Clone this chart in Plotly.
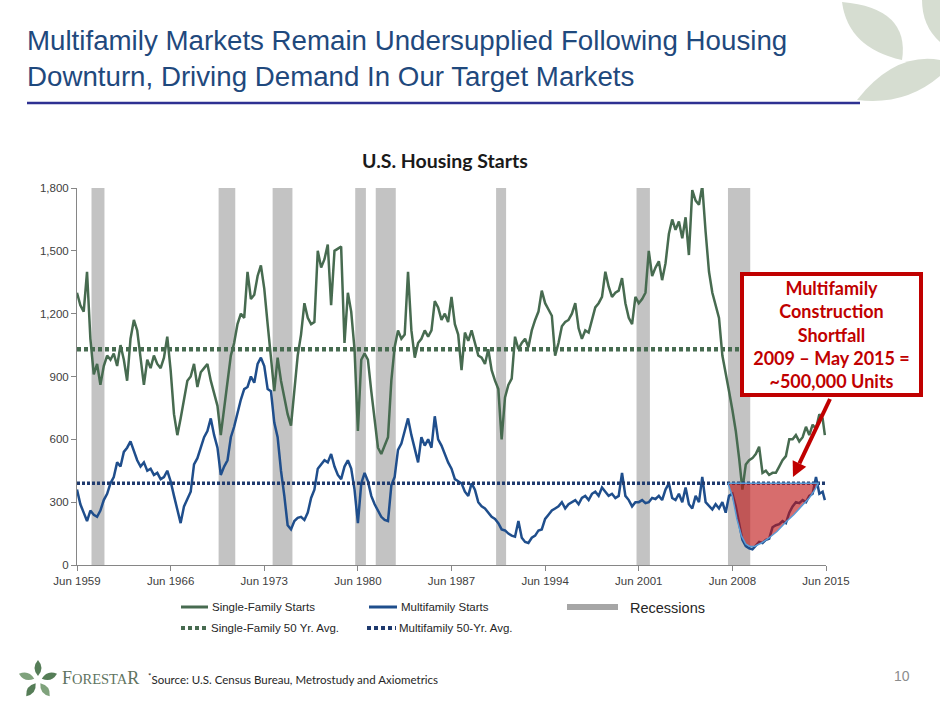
import math
import plotly.graph_objects as go
import pandas as pd

# ---------------- data (thousands of units, SAAR) ----------------
sf_starts = [
    1300, 1240, 1210,              # 1959 Jun-Dec
    1400, 1080, 910, 960,          # 1960
    860, 950, 1000, 980,           # 1961
    1010, 950, 1050, 980,          # 1962
    880, 1080, 1170, 1120,         # 1963
    1000, 860, 980, 940,           # 1964
    1000, 960, 940, 990,           # 1965
    1090, 930, 720, 620,           # 1966
    700, 800, 880, 900,            # 1967
    960, 850, 920, 940,            # 1968
    960, 880, 820, 760,            # 1969
    620, 740, 870, 1000,           # 1970
    1060, 1150, 1200, 1180,        # 1971
    1400, 1270, 1290, 1380,        # 1972
    1430, 1320, 1150, 1000,        # 1973
    830, 990, 880, 800,            # 1974
    720, 665, 840, 1000,           # 1975
    1100, 1250, 1180, 1150,        # 1976
    1160, 1500, 1420, 1460,        # 1977
    1530, 1240, 1500, 1510,        # 1978
    1520, 1060, 1300, 1210,        # 1979
    1030, 640, 980, 1010,          # 1980
    980, 830, 700, 560,            # 1981
    530, 570, 610, 880,            # 1982
    1040, 1120, 1080, 1100,        # 1983
    1400, 1120, 990, 1060,         # 1984
    1080, 1120, 1090, 1120,        # 1985
    1260, 1230, 1170, 1200,        # 1986
    1160, 1280, 1150, 1100,        # 1987
    930, 1110, 1070, 1120,         # 1988
    1060, 1000, 990, 960,          # 1989
    1030, 930, 880, 840,           # 1990
    600, 800, 860, 890,            # 1991
    1090, 1030, 1060, 1080,        # 1992
    1040, 1120, 1170, 1210,        # 1993
    1310, 1250, 1220, 1190,        # 1994
    1000, 1060, 1140, 1160,        # 1995
    1170, 1200, 1250, 1130,        # 1996
    1080, 1120, 1110, 1170,        # 1997
    1230, 1250, 1280, 1400,        # 1998
    1330, 1280, 1300, 1310,        # 1999
    1370, 1250, 1180, 1150,        # 2000
    1280, 1250, 1270, 1300,        # 2001
    1500, 1380, 1420, 1450,        # 2002
    1360, 1440, 1580, 1650,        # 2003
    1600, 1640, 1560, 1660,        # 2004
    1480, 1790, 1740, 1720,        # 2005
    1810, 1590, 1400, 1300,        # 2006
    1240, 1180, 1000, 920,         # 2007
    830, 740, 640, 510,            # 2008
    360, 480, 500, 510,            # 2009
    530, 565, 440, 450,            # 2010
    430, 440, 440, 470,            # 2011
    500, 520, 600, 600,            # 2012
    620, 590, 610, 660,            # 2013
    620, 670, 650, 720,            # 2014
    700, 620,                      # 2015 Mar, May
]

mf_starts = [
    360, 290, 250,                 # 1959
    210, 260, 240, 230,            # 1960
    260, 310, 340, 390,            # 1961
    420, 490, 470, 540,            # 1962
    560, 590, 540, 500,            # 1963
    470, 490, 450, 460,            # 1964
    430, 440, 410, 420,            # 1965
    450, 400, 330, 270,            # 1966
    200, 280, 320, 350,            # 1967
    480, 510, 560, 610,            # 1968
    640, 700, 620, 560,            # 1969
    430, 470, 500, 610,            # 1970
    660, 730, 790, 840,            # 1971
    850, 900, 870, 960,            # 1972
    990, 950, 840, 830,            # 1973
    680, 610, 450, 330,            # 1974
    190, 170, 210, 225,            # 1975
    230, 215, 250, 320,            # 1976
    360, 460, 480, 500,            # 1977
    490, 530, 470, 430,            # 1978
    410, 470, 500, 460,            # 1979
    360, 200, 390, 440,            # 1980
    400, 330, 290, 260,            # 1981
    230, 215, 210, 380,            # 1982
    420, 550, 580, 640,            # 1983
    700, 620, 560, 490,            # 1984
    610, 570, 600, 560,            # 1985
    710, 600, 570, 530,            # 1986
    490, 460, 410, 400,            # 1987
    390, 350, 330, 390,            # 1988
    360, 300, 280, 270,            # 1989
    250, 230, 220, 200,            # 1990
    170, 165, 150, 140,            # 1991
    135, 210, 130, 110,            # 1992
    105, 130, 140, 165,            # 1993
    170, 220, 240, 260,            # 1994
    270, 280, 300, 270,            # 1995
    290, 300, 310, 290,            # 1996
    320, 330, 310, 340,            # 1997
    350, 330, 370, 350,            # 1998
    330, 340, 320, 330,            # 1999
    440, 330, 310, 280,            # 2000
    300, 300, 310, 295,            # 2001
    300, 320, 315, 330,            # 2002
    310, 360, 390, 320,            # 2003
    310, 340, 300, 370,            # 2004
    290, 270, 330, 300,            # 2005
    420, 300, 280, 265,            # 2006
    290, 270, 300, 250,            # 2007
    330, 340, 280, 190,            # 2008
    120, 90, 80, 75,               # 2009
    95, 110, 105, 120,             # 2010
    125, 180, 190, 195,            # 2011
    210, 200, 250, 280,            # 2012
    300, 295, 310, 300,            # 2013
    330, 340, 420, 340,            # 2014
    350, 310,                      # 2015
]

sf_avg = 1030
mf_avg = 390

recession_start = ["1960-07-01", "1970-01-01", "1974-01-15", "1980-03-20", "1981-10-01",
                   "1990-10-01", "2001-04-01", "2008-02-01"]
recession_end = ["1961-06-20", "1971-04-01", "1975-07-10", "1981-01-05", "1983-04-01",
                 "1991-07-01", "2002-04-01", "2009-10-01"]

shortfall_dates = ["2008-02-01", "2008-06-01", "2008-10-01", "2009-02-01", "2009-06-01",
                   "2009-10-01", "2010-02-01", "2010-08-01", "2011-03-01", "2011-10-01",
                   "2012-06-01", "2013-01-01", "2013-08-01", "2014-03-01", "2014-08-01",
                   "2014-11-01"]
shortfall_lower = [390, 330, 220, 140, 100, 88, 90, 105, 130, 160, 205, 240, 280, 320, 360, 390]

tick_dates = ["1959-06-01", "1966-06-01", "1973-06-01", "1980-06-01", "1987-06-01",
              "1994-06-01", "2001-06-01", "2008-06-01", "2015-06-01"]
tick_labels = ["Jun 1959", "Jun 1966", "Jun 1973", "Jun 1980", "Jun 1987",
               "Jun 1994", "Jun 2001", "Jun 2008", "Jun 2015"]
y_ticks = [0, 300, 600, 900, 1200, 1500, 1800]

dates = list(pd.date_range("1959-06-01", periods=len(sf_starts) - 1, freq="3MS")) + [pd.Timestamp("2015-05-01")]
assert len(sf_starts) == len(mf_starts) == len(dates)

# ---------------- styling ----------------
W, H = 940, 705
L, R, T, B = 77, 826, 188, 565
PW, PH = R - L, B - T

GREEN = "#476B50"
BLUE = "#1F4E8C"
NAVY = "#1F3A6E"
RED = "#C00000"
ARIAL = "Liberation Sans, Arial, sans-serif"
CAL = "Lato, Carlito, Calibri, sans-serif"


def px(x):
    return (x - L) / PW


def py(y):
    return (B - y) / PH


def path(cmds, close=True):
    out = []
    for c in cmds:
        op, pts = c[0], c[1:]
        s = op
        for i in range(0, len(pts), 2):
            s += " %.4f,%.4f" % (px(pts[i]), py(pts[i + 1]))
        out.append(s)
    return " ".join(out) + (" Z" if close else "")


fig = go.Figure()

fig.add_trace(go.Scatter(x=dates, y=sf_starts, mode="lines", name="Single-Family Starts",
                         line=dict(color=GREEN, width=2.5), showlegend=False))
fig.add_trace(go.Scatter(x=dates, y=mf_starts, mode="lines", name="Multifamily Starts",
                         line=dict(color=BLUE, width=2.5), showlegend=False))
fig.add_trace(go.Scatter(x=[tick_dates[0], tick_dates[-1]], y=[sf_avg, sf_avg], mode="lines",
                         name="Single-Family 50 Yr. Avg.",
                         line=dict(color=GREEN, width=4.5, dash="4px,3px"), showlegend=False))
fig.add_trace(go.Scatter(x=[tick_dates[0], tick_dates[-1]], y=[mf_avg, mf_avg], mode="lines",
                         name="Multifamily 50-Yr. Avg.",
                         line=dict(color=NAVY, width=3.5, dash="3px,2px"), showlegend=False))
fig.add_trace(go.Scatter(x=shortfall_dates + shortfall_dates[::-1],
                         y=shortfall_lower + [mf_avg] * len(shortfall_dates),
                         mode="lines", fill="toself", fillcolor="rgba(190,20,20,0.62)",
                         line=dict(color="#5B9BD5", width=1.5), showlegend=False,
                         name="Shortfall"))

shapes = []
for s, e in zip(recession_start, recession_end):
    shapes.append(dict(type="rect", xref="x", yref="paper", x0=s, x1=e, y0=0, y1=1,
                       fillcolor="#C3C3C3", line=dict(width=0), layer="below"))

# title rule
shapes.append(dict(type="line", xref="paper", yref="paper", x0=px(27), x1=px(860),
                   y0=py(103), y1=py(103), line=dict(color="#2E3192", width=2.5)))

# decorative leaves top right
LEAF = "#D6DDD1"
shapes.append(dict(type="path", xref="paper", yref="paper", fillcolor=LEAF, line=dict(width=0),
                   path=path([("M", 842, 2), ("Q", 910, 8, 902, 60), ("Q", 848, 48, 842, 2)])))
shapes.append(dict(type="path", xref="paper", yref="paper", fillcolor=LEAF, line=dict(width=0),
                   path=path([("M", 857, 100), ("Q", 895, 52, 940, 60), ("L", 940, 76),
                              ("Q", 905, 106, 857, 100)])))
shapes.append(dict(type="path", xref="paper", yref="paper", fillcolor=LEAF, line=dict(width=0),
                   path=path([("M", 922, 0), ("L", 940, 0), ("L", 940, 42), ("Q", 922, 26, 922, 0)])))

# footer icon
cx, cy = 38, 680
for k, ang in enumerate([90, 162, 234, 306, 18]):
    a = math.radians(ang)
    x0, y0 = cx + 4 * math.cos(a), cy - 4 * math.sin(a)
    x1, y1 = cx + 20 * math.cos(a), cy - 20 * math.sin(a)
    mx, my = (x0 + x1) / 2, (y0 + y1) / 2
    nx, ny = -math.sin(a) * 7, -math.cos(a) * 7
    shapes.append(dict(type="path", xref="paper", yref="paper",
                       fillcolor="#557D57" if k % 2 == 0 else "#7FA27C", line=dict(width=0),
                       path=path([("M", x0, y0), ("Q", mx + nx, my + ny, x1, y1),
                                  ("Q", mx - nx, my - ny, x0, y0)])))

# callout arrow (line + triangular head)
tail, tip = (830, 399), (793, 477)
dx, dy = tip[0] - tail[0], tip[1] - tail[1]
ln = math.hypot(dx, dy)
ux, uy = dx / ln, dy / ln
hl, hw = 15, 7.5
bx, by = tip[0] - hl * ux, tip[1] - hl * uy
shapes.append(dict(type="line", xref="paper", yref="paper", x0=px(tail[0]), y0=py(tail[1]),
                   x1=px(bx), y1=py(by), line=dict(color=RED, width=4)))
shapes.append(dict(type="path", xref="paper", yref="paper", fillcolor=RED, line=dict(width=0),
                   path=path([("M", tip[0], tip[1]), ("L", bx - hw * uy, by + hw * ux),
                              ("L", bx + hw * uy, by - hw * ux)])))

# manual legend
shapes.append(dict(type="line", xref="paper", yref="paper", x0=px(181), x1=px(208),
                   y0=py(607), y1=py(607), line=dict(color=GREEN, width=3)))
shapes.append(dict(type="line", xref="paper", yref="paper", x0=px(369), x1=px(397),
                   y0=py(607), y1=py(607), line=dict(color=BLUE, width=3)))
shapes.append(dict(type="rect", xref="paper", yref="paper", x0=px(567), x1=px(618),
                   y0=py(610), y1=py(604), fillcolor="#A6A6A6", line=dict(width=0)))
shapes.append(dict(type="line", xref="paper", yref="paper", x0=px(181), x1=px(207),
                   y0=py(628), y1=py(628), line=dict(color=GREEN, width=4, dash="4px,3px")))
shapes.append(dict(type="line", xref="paper", yref="paper", x0=px(367), x1=px(396),
                   y0=py(628), y1=py(628), line=dict(color=NAVY, width=4, dash="4px,3px")))

annotations = []


def txt(x, y, text, size, color="#262626", family=ARIAL, xanchor="left", yanchor="middle", **kw):
    annotations.append(dict(x=px(x), y=py(y), xref="paper", yref="paper", text=text,
                            showarrow=False, xanchor=xanchor, yanchor=yanchor,
                            font=dict(size=size, color=color, family=family), **kw))


TITLE_C = "#1F497D"
txt(25, 58, "Multifamily Markets Remain Undersupplied Following Housing<br>"
            "Downturn, Driving Demand In Our Target Markets", 27.7, TITLE_C, ARIAL, align="left")
txt(445, 160, "<b>U.S. Housing Starts</b>", 19.5, "#1A1A1A", CAL, xanchor="center")

txt(210, 607, "Single-Family Starts", 11.5, "#262626", ARIAL)
txt(399, 607, "Multifamily Starts", 11.5, "#262626", ARIAL)
txt(628, 608, "Recessions", 14.5, "#262626", ARIAL)
txt(209, 628, "Single-Family 50 Yr. Avg.", 11.5, "#262626", ARIAL)
txt(397, 628, "Multifamily 50-Yr. Avg.", 11.5, "#262626", ARIAL)

txt(60, 678, "<span style='font-size:18px'>F</span>ORESTA<span style='font-size:18px'>R</span>",
    14.5, "#5F7461", "Liberation Serif, serif")
txt(146, 678, "<sup>*</sup>Source: U.S. Census Bureau, Metrostudy and Axiometrics", 11.5,
    "#262626", CAL)
txt(912, 676, "10", 14, "#8C8C8C", ARIAL, xanchor="right")

# callout box
annotations.append(dict(x=px(831), y=py(334), xref="paper", yref="paper",
                        text="<b>Multifamily<br>Construction<br>Shortfall<br>2009 \u2013 May 2015 =<br>~500,000 Units</b>",
                        showarrow=False, xanchor="center", yanchor="middle", align="center",
                        font=dict(size=18, color=RED, family=CAL),
                        bordercolor=RED, borderwidth=4, borderpad=0, bgcolor="white",
                        width=175, height=117))

fig.update_layout(
    width=W, height=H,
    margin=dict(l=L, r=W - R, t=T, b=H - B, pad=0),
    paper_bgcolor="white", plot_bgcolor="white",
    showlegend=False,
    shapes=shapes, annotations=annotations,
    xaxis=dict(type="date", range=[tick_dates[0], tick_dates[-1]], tickvals=tick_dates,
               ticktext=tick_labels, showgrid=False, zeroline=False, showline=True,
               linecolor="#868686", linewidth=1, ticks="outside", ticklen=5,
               tickcolor="#868686", tickfont=dict(family=ARIAL, size=11.5, color="#404040")),
    yaxis=dict(range=[0, 1800], tickvals=y_ticks, tickformat=",", showgrid=False,
               zeroline=False, showline=True, linecolor="#868686", linewidth=1,
               ticks="outside", ticklen=5, tickcolor="#868686",
               tickfont=dict(family=ARIAL, size=11.5, color="#404040")),
)

fig.write_html("out.html", config={"displayModeBar": False},
               post_script="document.body.style.margin='0';")
